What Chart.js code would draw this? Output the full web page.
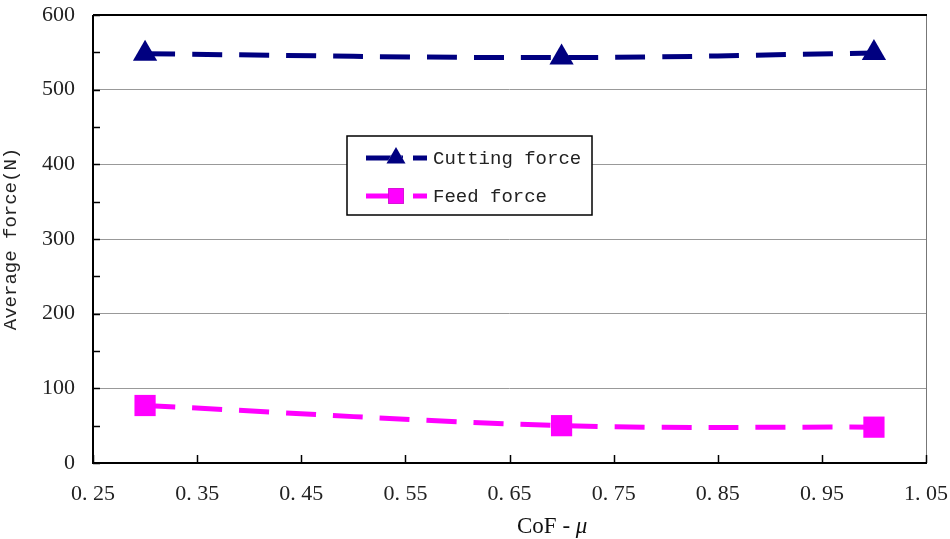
<!DOCTYPE html>
<html>
<head>
<meta charset="utf-8">
<script src="https://cdn.jsdelivr.net/npm/chart.js@4/dist/chart.umd.min.js"></script>
<style>
  html, body { margin: 0; padding: 0; background: #fff; }
  #wrap { width: 950px; height: 539px; }
</style>
</head>
<body>
<div id="wrap"><canvas id="chart" width="950" height="539"></canvas></div>
<script>
// data
const cofValues = [0.3, 0.7, 1.0];
const cuttingForce = [548, 543, 549];
const feedForce = [77, 50, 48];
const seriesNames = ['Cutting force', 'Feed force'];
const xTicks = [0.25, 0.35, 0.45, 0.55, 0.65, 0.75, 0.85, 0.95, 1.05];
const yTicks = [0, 100, 200, 300, 400, 500, 600];

const serif = '"Liberation Serif", "DejaVu Serif", serif';
const mono = '"Liberation Mono", "DejaVu Sans Mono", monospace';

// frame, inward ticks, x title with italic mu and the boxed legend
const framePlugin = {
  id: 'frame',
  afterDatasetsDraw(chart) {
    const { ctx, chartArea: a, scales } = chart;
    ctx.save();
    // top + right border
    ctx.strokeStyle = '#777';
    ctx.lineWidth = 1;
    ctx.beginPath();
    ctx.moveTo(a.right + 0.5, a.top);
    ctx.lineTo(a.right + 0.5, a.bottom);
    ctx.stroke();
    ctx.strokeStyle = '#000';
    ctx.lineWidth = 2;
    ctx.beginPath();
    ctx.moveTo(a.left, a.top);
    ctx.lineTo(a.right + 1, a.top);
    ctx.stroke();
    // axes
    ctx.beginPath();
    ctx.moveTo(a.left, a.top);
    ctx.lineTo(a.left, a.bottom);
    ctx.lineTo(a.right + 1, a.bottom);
    ctx.stroke();
    // y ticks (major + minor), pointing inside
    ctx.lineWidth = 1.5;
    for (let v = 0; v <= 600; v += 50) {
      const y = Math.round(scales.y.getPixelForValue(v)) + 0.5;
      ctx.beginPath();
      ctx.moveTo(a.left, y);
      ctx.lineTo(a.left + 7, y);
      ctx.stroke();
    }
    // x ticks
    xTicks.forEach(v => {
      const x = Math.round(scales.x.getPixelForValue(v)) + 0.5;
      ctx.beginPath();
      ctx.moveTo(x, a.bottom);
      ctx.lineTo(x, a.bottom - 8);
      ctx.stroke();
    });

    // x title: "CoF - " upright, mu italic
    ctx.fillStyle = '#111';
    ctx.textBaseline = 'alphabetic';
    ctx.font = '23px ' + serif;
    const head = 'CoF - ';
    ctx.fillText(head, 517, 533);
    const w = ctx.measureText(head).width;
    ctx.font = 'italic 23px ' + serif;
    ctx.fillText('\u03bc', 517 + w, 533);

    // legend box
    const bx = 347, by = 136, bw = 245, bh = 79;
    ctx.fillStyle = '#fff';
    ctx.fillRect(bx, by, bw, bh);
    ctx.strokeStyle = '#000';
    ctx.lineWidth = 1.5;
    ctx.strokeRect(bx, by, bw, bh);
    chart.data.datasets.forEach((ds, i) => {
      const y = by + 22 + i * 38;
      ctx.strokeStyle = ds.borderColor;
      ctx.lineWidth = 5;
      ctx.setLineDash([37, 10]);
      ctx.beginPath();
      ctx.moveTo(366, y);
      ctx.lineTo(427, y);
      ctx.stroke();
      ctx.setLineDash([]);
      Chart.helpers.drawPoint(ctx, {
        pointStyle: ds.pointStyle,
        radius: 11,
        borderWidth: 0
      }, 396, y);
      ctx.fillStyle = ds.borderColor;
      ctx.fill();
      ctx.fillStyle = '#222';
      ctx.font = '19px ' + mono;
      ctx.textBaseline = 'middle';
      ctx.fillText(ds.label, 433, y + 1);
    });
    ctx.restore();
  }
};

new Chart(document.getElementById('chart'), {
  type: 'line',
  data: {
    datasets: [
      {
        label: seriesNames[0],
        data: cofValues.map((x, i) => ({ x: x, y: cuttingForce[i] })),
        borderColor: '#000080',
        backgroundColor: '#000080',
        borderWidth: 5,
        borderDash: [30, 17],
        pointStyle: 'triangle',
        pointRadius: 14,
        pointBorderWidth: 0,
        tension: 0.4,
      },
      {
        label: seriesNames[1],
        data: cofValues.map((x, i) => ({ x: x, y: feedForce[i] })),
        borderColor: '#ff00ff',
        backgroundColor: '#ff00ff',
        borderWidth: 5,
        borderDash: [30, 17],
        pointStyle: 'rect',
        pointRadius: 15,
        pointBorderWidth: 0,
        tension: 0.35,
      },
    ],
  },
  options: {
    responsive: false,
    animation: false,
    clip: false,
    layout: { padding: { left: 0, right: 24, top: 15, bottom: 0 } },
    plugins: {
      legend: { display: false },
      tooltip: { enabled: false },
    },
    scales: {
      x: {
        type: 'linear',
        min: 0.25,
        max: 1.05,
        afterBuildTicks: scale => { scale.ticks = xTicks.map(v => ({ value: v })); },
        ticks: {
          color: '#222',
          font: { family: serif, size: 22 },
          padding: 18,
          callback: v => v.toFixed(2).replace('.', '. '),
        },
        grid: { display: false, drawTicks: false },
        border: { display: false },
        afterFit: scale => {
          scale.height = 76;
          scale.paddingLeft = 0;
          scale.paddingRight = 0;
        },
      },
      y: {
        min: 0,
        max: 600,
        afterBuildTicks: scale => { scale.ticks = yTicks.map(v => ({ value: v })); },
        ticks: {
          color: '#222',
          font: { family: serif, size: 22 },
          padding: 18,
        },
        grid: {
          color: ctx => (ctx.tick && (ctx.tick.value === 0 || ctx.tick.value === 600)) ? 'rgba(0,0,0,0)' : '#999',
          lineWidth: 1,
          drawTicks: false,
        },
        border: { display: false },
        title: {
          display: true,
          text: 'Average force(N)',
          color: '#222',
          font: { family: mono, size: 19 },
          padding: { top: 0, bottom: 8 },
        },
        afterFit: scale => {
          scale.width = 93;
          scale.paddingTop = 0;
          scale.paddingBottom = 0;
        },
      },
    },
  },
  plugins: [framePlugin],
});
</script>
</body>
</html>
